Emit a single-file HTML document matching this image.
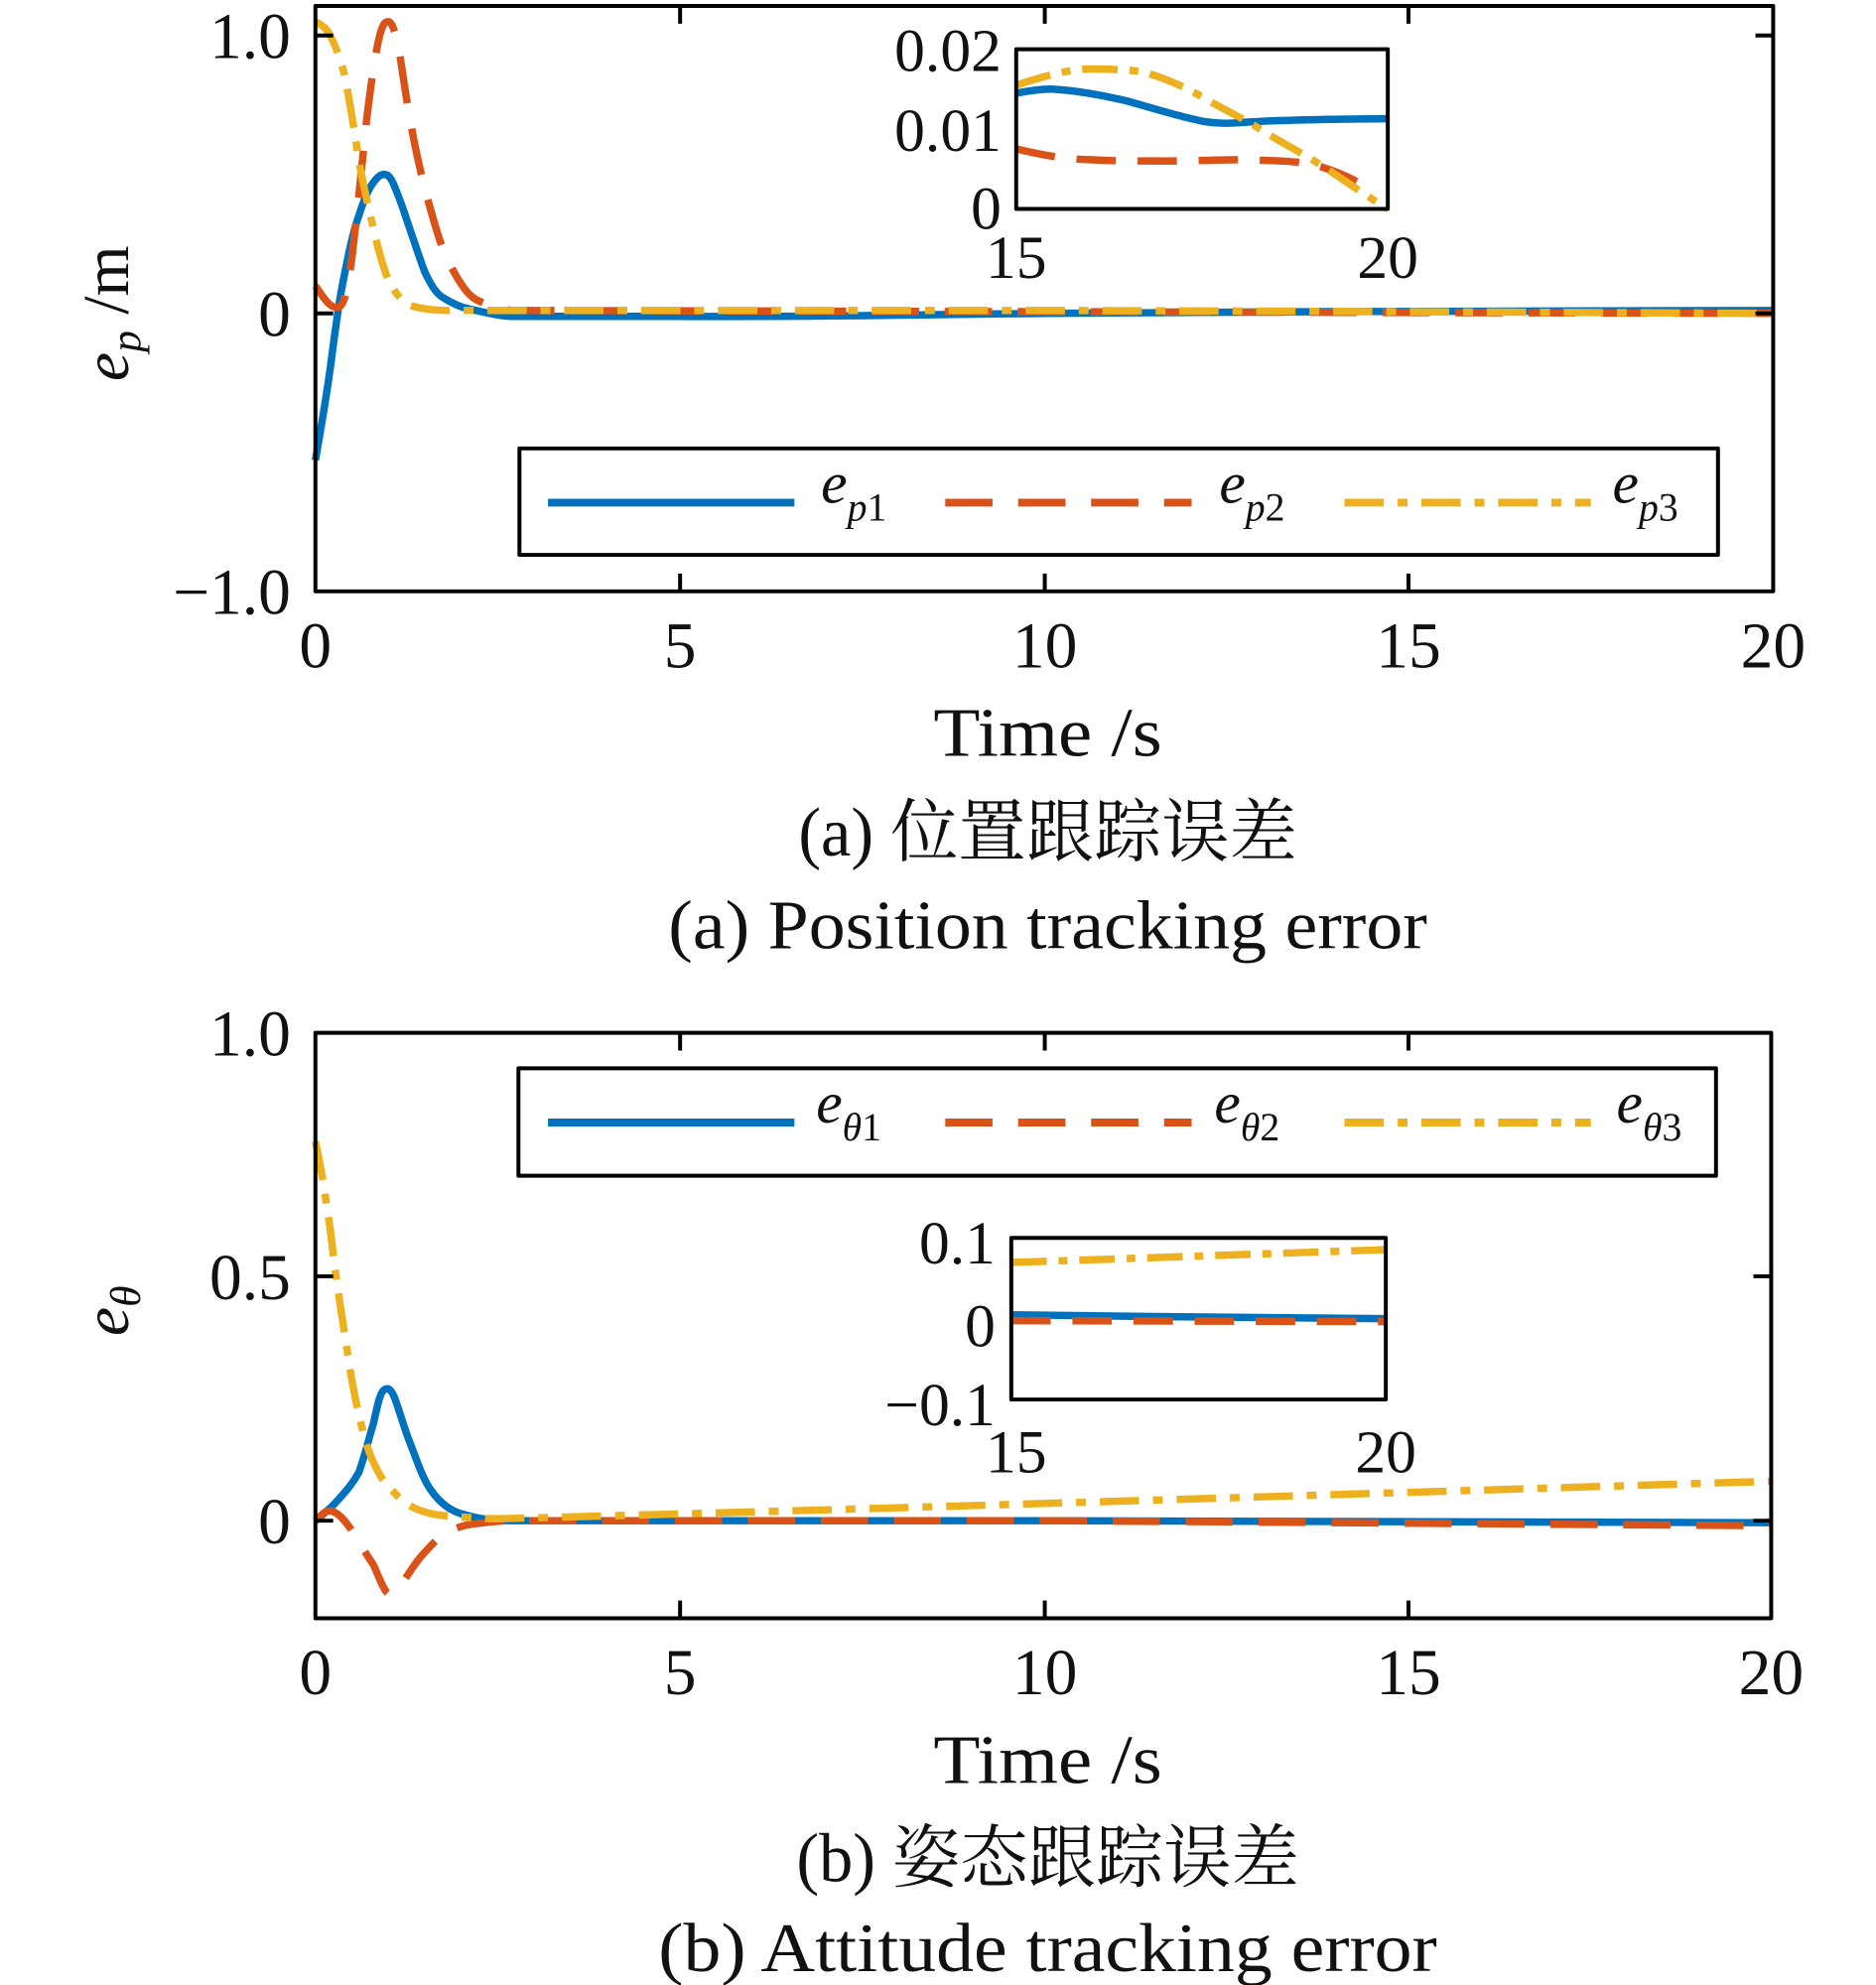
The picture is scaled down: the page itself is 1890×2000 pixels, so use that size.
<!DOCTYPE html>
<html><head><meta charset="utf-8"><style>
html,body{margin:0;padding:0;background:#fff;}
svg{display:block;}
text{font-family:"Liberation Serif","Noto Serif CJK SC",serif;fill:#111;}
</style></head><body>
<svg width="1890" height="2000" viewBox="0 0 1890 2000" xmlns="http://www.w3.org/2000/svg">
<g transform="scale(0.993)">
<g fill="none" stroke-linejoin="round" stroke-linecap="butt">
<!-- Plot 1 -->
<path d="M320,467 C330,410 335,374 335,374 C342,320 345,300 350,276 C356,245 360,230 364,219 C370,200 375,190 379,185 C384,178 387,177 390,177 C395,177 398,183 401,191 C407,205 411,218 416,233 C422,250 426,263 431,276 C440,295 445,300 453,304 C465,311 472,313 483,315 C500,319 510,321 520,321 L690,321 C800,322 950,319 1060,318 C1300,316 1600,315 1799,315" stroke="#0072BD" stroke-width="7.5"/>
<path d="M320,290 C330,305 335,312 342,312 C350,312 353,290 357,262 C362,220 367,170 372,121 C377,80 382,45 387,30 C390,22 392,22 394,22 C400,22 405,50 409,78 C416,125 423,160 431,191 C440,225 446,245 453,262 C465,285 473,298 483,304 C497,311 508,314 520,315 L1799,318" stroke="#D95319" stroke-width="7.5" stroke-dasharray="48 26"/>
<path d="M320,22 C328,26 332,30 335,36 C342,50 346,62 350,78 C356,110 360,135 364,163 C370,195 375,215 379,233 C385,258 389,272 394,284 C402,300 409,306 416,310 C430,314 442,315 453,315 L1060,315 C1400,316 1600,317 1799,318" stroke="#EDB120" stroke-width="7.5" stroke-dasharray="40 14 10 14"/>
<rect x="320" y="6" width="1479" height="594" stroke="#000" stroke-width="4"/>
<path d="M690,600v-18M1060,600v-18M1429,600v-18M690,6v18M1060,6v18M1429,6v18M320,36h18M320,318h18M1799,36h-18M1799,318h-18" stroke="#000" stroke-width="4"/>
<!-- legend 1 -->
<rect x="527" y="455" width="1216" height="108" fill="#fff" stroke="#000" stroke-width="4"/>
<path d="M556,510H806" stroke="#0072BD" stroke-width="8"/>
<path d="M959,510H1209" stroke="#D95319" stroke-width="8" stroke-dasharray="48 26"/>
<path d="M1364,510H1614" stroke="#EDB120" stroke-width="8" stroke-dasharray="40 14 10 14"/>
<!-- inset 1 -->
<rect x="1031" y="50" width="377" height="162" fill="#fff"/>
<path d="M1031,94.6 C1045,92 1060,90 1069,90.5 C1095,92 1120,97 1144,102.6 C1170,110 1195,118 1220,123 C1240,126 1250,125 1257,124.5 C1290,122 1333,121 1408,120.5" stroke="#0072BD" stroke-width="7.5"/>
<path d="M1031,151 C1060,158 1085,162 1106,162 C1140,164 1160,163 1182,163.4 C1220,163 1240,162 1257,162 C1300,163 1320,164 1333,167 C1365,176 1385,188 1394,196" stroke="#D95319" stroke-width="7.5" stroke-dasharray="40 22"/>
<path d="M1031,86.5 C1060,77 1085,70 1106,70 C1130,70 1145,71 1159,72.7 C1185,80 1205,90 1220,98.6 C1240,110 1260,120 1272,127 C1295,142 1315,152 1333,163 C1360,180 1385,198 1408,212" stroke="#EDB120" stroke-width="7.5" stroke-dasharray="36 12 9 12"/>
<rect x="1031" y="50" width="377" height="162" stroke="#000" stroke-width="4"/>

<!-- Plot 2 -->
<path d="M320,1543 C330,1535 336,1530 342,1523 C352,1512 358,1505 364,1494 C370,1478 374,1460 379,1444 C383,1425 386,1412 390,1410 C395,1407 398,1412 401,1420 C407,1437 411,1452 416,1464 C424,1485 430,1503 438,1513 C448,1527 458,1533 468,1536 C485,1541 500,1543 512,1543 L1060,1543 C1400,1544 1600,1545 1797,1545" stroke="#0072BD" stroke-width="7.5"/>
<path d="M320,1543 C326,1537 330,1533 335,1533 C343,1534 350,1543 357,1553 C366,1567 372,1578 379,1588 C386,1604 390,1615 394,1617 C400,1618 404,1612 409,1605 C417,1593 424,1582 431,1575 C440,1565 446,1559 453,1555 C465,1549 473,1547 483,1546 C500,1544 510,1543 520,1543 L1060,1543 C1400,1545 1600,1547 1797,1548" stroke="#D95319" stroke-width="7.5" stroke-dasharray="48 26"/>
<path d="M320,1158 C327,1190 331,1220 335,1247 C340,1290 345,1325 350,1355 C355,1390 359,1415 364,1434 C369,1458 374,1473 379,1484 C385,1497 389,1503 394,1508 C402,1517 409,1524 416,1528 C430,1535 440,1537 453,1538 C475,1540 490,1541 505,1541 C900,1531 1300,1518 1797,1503" stroke="#EDB120" stroke-width="7.5" stroke-dasharray="40 14 10 14"/>
<rect x="320" y="1048" width="1477" height="594" stroke="#000" stroke-width="4"/>
<path d="M690,1642v-18M1060,1642v-18M1429,1642v-18M690,1048v18M1060,1048v18M1429,1048v18M320,1295h18M320,1543h18M1797,1295h-18M1797,1543h-18" stroke="#000" stroke-width="4"/>
<!-- legend 2 -->
<rect x="526" y="1084" width="1215" height="109" fill="#fff" stroke="#000" stroke-width="4"/>
<path d="M556,1139H806" stroke="#0072BD" stroke-width="8"/>
<path d="M959,1139H1209" stroke="#D95319" stroke-width="8" stroke-dasharray="48 26"/>
<path d="M1364,1139H1614" stroke="#EDB120" stroke-width="8" stroke-dasharray="40 14 10 14"/>
<!-- inset 2 -->
<rect x="1026" y="1256" width="380" height="164" fill="#fff"/>
<path d="M1026,1334 C1150,1336 1300,1337 1406,1338" stroke="#0072BD" stroke-width="7.5"/>
<path d="M1026,1340 L1406,1341" stroke="#D95319" stroke-width="7.5" stroke-dasharray="40 22"/>
<path d="M1026,1281 L1406,1268" stroke="#EDB120" stroke-width="7.5" stroke-dasharray="36 12 9 12"/>
<rect x="1026" y="1256" width="380" height="164" stroke="#000" stroke-width="4"/>
</g>

<g font-size="66">
<text x="295" y="59" text-anchor="end">1.0</text>
<text x="295" y="341" text-anchor="end">0</text>
<text x="295" y="623" text-anchor="end">−1.0</text>
<text x="320" y="677" text-anchor="middle">0</text>
<text x="690" y="677" text-anchor="middle">5</text>
<text x="1060" y="677" text-anchor="middle">10</text>
<text x="1429" y="677" text-anchor="middle">15</text>
<text x="1799" y="677" text-anchor="middle">20</text>
<text x="1063" y="767" text-anchor="middle" font-size="70" textLength="232" lengthAdjust="spacingAndGlyphs">Time /s</text>
<text x="1063" y="868" text-anchor="middle" font-size="70" textLength="506" lengthAdjust="spacingAndGlyphs">(a) 位置跟踪误差</text>
<text x="1063" y="962" text-anchor="middle" font-size="70" textLength="770" lengthAdjust="spacingAndGlyphs">(a) Position tracking error</text>
<text transform="translate(130,318) rotate(-90)" text-anchor="middle"><tspan font-style="italic">e</tspan><tspan font-style="italic" font-size="44" dy="12">p</tspan><tspan dy="-12"> /m</tspan></text>
<text x="295" y="1071" text-anchor="end">1.0</text>
<text x="295" y="1318" text-anchor="end">0.5</text>
<text x="295" y="1566" text-anchor="end">0</text>
<text x="320" y="1719" text-anchor="middle">0</text>
<text x="690" y="1719" text-anchor="middle">5</text>
<text x="1060" y="1719" text-anchor="middle">10</text>
<text x="1429" y="1719" text-anchor="middle">15</text>
<text x="1797" y="1719" text-anchor="middle">20</text>
<text x="1063" y="1809" text-anchor="middle" font-size="70" textLength="232" lengthAdjust="spacingAndGlyphs">Time /s</text>
<text x="1063" y="1909" text-anchor="middle" font-size="70" textLength="510" lengthAdjust="spacingAndGlyphs">(b) 姿态跟踪误差</text>
<text x="1063" y="2000" text-anchor="middle" font-size="70" textLength="790" lengthAdjust="spacingAndGlyphs">(b) Attitude tracking error</text>
<text transform="translate(130,1330) rotate(-90)" text-anchor="middle"><tspan font-style="italic">e</tspan><tspan font-style="italic" font-size="44" dy="12">θ</tspan></text>
</g>
<g font-size="62">
<text x="1016" y="72" text-anchor="end">0.02</text>
<text x="1016" y="153" text-anchor="end">0.01</text>
<text x="1016" y="232" text-anchor="end">0</text>
<text x="1031" y="282" text-anchor="middle">15</text>
<text x="1408" y="282" text-anchor="middle">20</text>
<text x="1010" y="1282" text-anchor="end">0.1</text>
<text x="1010" y="1366" text-anchor="end">0</text>
<text x="1010" y="1446" text-anchor="end">−0.1</text>
<text x="1031" y="1494" text-anchor="middle">15</text>
<text x="1406" y="1494" text-anchor="middle">20</text>
</g>
<g font-size="60" font-style="italic">
<text x="833" y="510">e<tspan font-size="40" dy="18">p</tspan><tspan font-size="40" font-style="normal">1</tspan></text>
<text x="1237" y="510">e<tspan font-size="40" dy="18">p</tspan><tspan font-size="40" font-style="normal">2</tspan></text>
<text x="1636" y="510">e<tspan font-size="40" dy="18">p</tspan><tspan font-size="40" font-style="normal">3</tspan></text>
<text x="828" y="1139">e<tspan font-size="40" dy="18">θ</tspan><tspan font-size="40" font-style="normal">1</tspan></text>
<text x="1232" y="1139">e<tspan font-size="40" dy="18">θ</tspan><tspan font-size="40" font-style="normal">2</tspan></text>
<text x="1640" y="1139">e<tspan font-size="40" dy="18">θ</tspan><tspan font-size="40" font-style="normal">3</tspan></text>
</g>
</g>
</svg>
</body></html>
